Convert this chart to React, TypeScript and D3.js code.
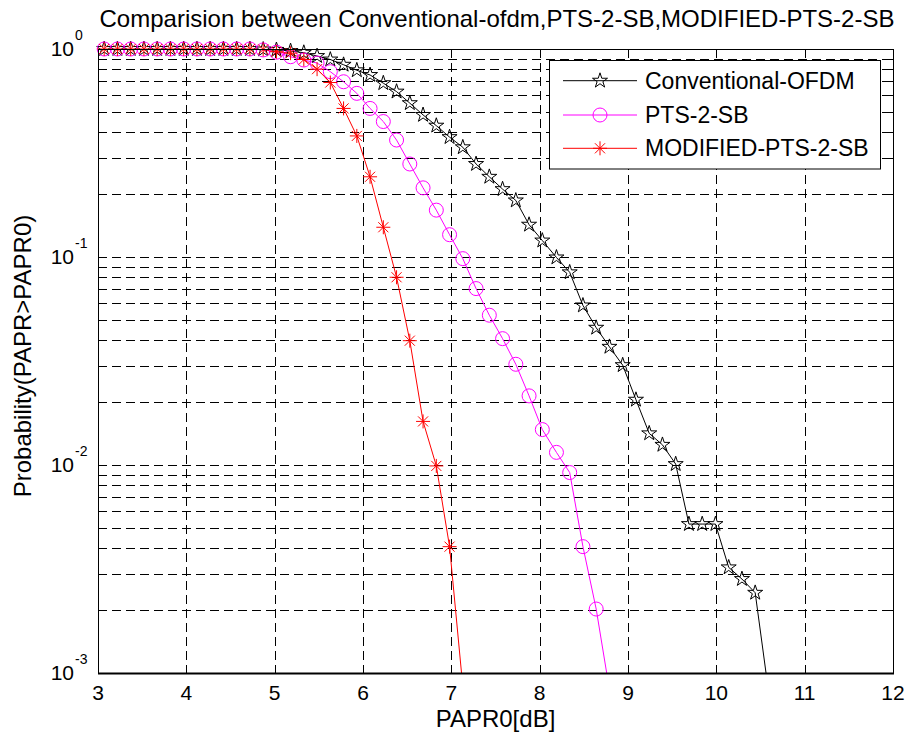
import React from "react";
import * as d3 from "d3";

const papr0 = [
  3.07, 3.22, 3.37, 3.52, 3.67, 3.82, 3.97, 4.12, 4.27, 4.42,
  4.57, 4.72, 4.87, 5.02, 5.18, 5.33, 5.48, 5.63, 5.78, 5.93,
  6.08, 6.23, 6.38, 6.53, 6.68, 6.83, 6.98, 7.13, 7.28, 7.43,
  7.58, 7.73, 7.88, 8.03, 8.19, 8.34, 8.49, 8.64, 8.79, 8.94,
  9.09, 9.24, 9.39, 9.54, 9.69, 9.84, 9.99, 10.14, 10.29, 10.44,
  10.59,
];

const conventional = [
  1, 1, 1, 1, 1, 1, 1, 1, 1, 1,
  1, 1, 0.995, 0.99, 0.978, 0.96, 0.925, 0.89, 0.84, 0.79,
  0.75, 0.685, 0.624, 0.549, 0.482, 0.428, 0.377, 0.337, 0.28, 0.243,
  0.212, 0.187, 0.143, 0.12, 0.0995, 0.0844, 0.0585, 0.0457, 0.037, 0.0302,
  0.0206, 0.0142, 0.0125, 0.0101, 0.0052, 0.0052, 0.0052, 0.00322, 0.00283, 0.00243,
  0.00082,
];

const pts2sb = [
  1, 1, 1, 1, 1, 1, 1, 1, 1, 1,
  1, 1, 0.99, 0.965, 0.918, 0.885, 0.856, 0.778, 0.696, 0.612,
  0.518, 0.448, 0.365, 0.28, 0.215, 0.168, 0.128, 0.0982, 0.0705, 0.0525,
  0.0405, 0.0305, 0.0215, 0.0148, 0.0115, 0.0092, 0.00405, 0.00203, 0.00083,
];

const modifiedPts = [
  1, 1, 1, 1, 1, 1, 1, 1, 1, 1,
  1, 1, 0.995, 0.97, 0.955, 0.89, 0.8, 0.69, 0.518, 0.382,
  0.243, 0.139, 0.0799, 0.0396, 0.0162, 0.0099, 0.00405, 0.00086,
];

const xTicks = [3, 4, 5, 6, 7, 8, 9, 10, 11, 12];
const yDecades = [0, -1, -2, -3];
const seriesNames = ["Conventional-OFDM", "PTS-2-SB", "MODIFIED-PTS-2-SB"];

const L = 98, R = 893, T = 49, B = 673;
const FONT = "Liberation Sans, Arial, Helvetica, sans-serif";

const x = d3.scaleLinear().domain([3, 12]).range([L, R]);
const y = d3.scaleLog().domain([1e-3, 1]).range([B, T]);

type Kind = "star" | "circle" | "asterisk";

function Marker({ kind, cx, cy, color }: { kind: Kind; cx: number; cy: number; color: string }) {
  if (kind === "circle") {
    return <circle cx={cx} cy={cy} r={7} fill="none" stroke={color} strokeWidth={1} />;
  }
  if (kind === "star") {
    const p = d3.symbol().type(d3.symbolStar).size(70)();
    return (
      <path d={p || ""} transform={`translate(${cx},${cy})`} fill="none" stroke={color} strokeWidth={1} />
    );
  }
  const r = 7;
  const q = r * 0.72;
  return (
    <g stroke={color} strokeWidth={1}>
      <line x1={cx - r} y1={cy} x2={cx + r} y2={cy} />
      <line x1={cx} y1={cy - r} x2={cx} y2={cy + r} />
      <line x1={cx - q} y1={cy - q} x2={cx + q} y2={cy + q} />
      <line x1={cx - q} y1={cy + q} x2={cx + q} y2={cy - q} />
    </g>
  );
}

const series: { name: string; values: number[]; color: string; kind: Kind }[] = [
  { name: seriesNames[0], values: conventional, color: "#000000", kind: "star" },
  { name: seriesNames[1], values: pts2sb, color: "#ff00ff", kind: "circle" },
  { name: seriesNames[2], values: modifiedPts, color: "#ff0000", kind: "asterisk" },
];

export default function App() {
  const line = d3
    .line<[number, number]>()
    .x((d) => x(d[0]))
    .y((d) => y(d[1]));

  const minorY: number[] = [];
  for (let e = -3; e < 0; e++) {
    for (let m = 2; m <= 9; m++) minorY.push(m * Math.pow(10, e));
  }
  const majorY = yDecades.map((e) => Math.pow(10, e));
  const crisp = (v: number) => Math.round(v) + 0.5;

  const legendRows = [80.7, 115, 148.3];

  return (
    <svg
      width={910}
      height={737}
      style={{ position: "absolute", left: 0, top: 0, background: "#fff" }}
      fontFamily={FONT}
    >
      <defs>
        <clipPath id="plotClip">
          <rect x={L} y={T} width={R - L} height={B - T} />
        </clipPath>
      </defs>
      <rect x={0} y={0} width={910} height={737} fill="#fff" />
      <rect x={L} y={T} width={R - L} height={B - T} fill="#fff" />

      {/* grid */}
      <g stroke="#000" strokeWidth={1} strokeDasharray="9,5" fill="none">
        {xTicks.slice(1, -1).map((t) => (
          <line key={"gx" + t} x1={crisp(x(t))} x2={crisp(x(t))} y1={T} y2={B} />
        ))}
        {[...minorY, ...majorY].map((v, i) => (
          <line key={"gy" + i} x1={L} x2={R} y1={crisp(y(v))} y2={crisp(y(v))} />
        ))}
      </g>

      {/* ticks */}
      <g stroke="#000" strokeWidth={1}>
        {xTicks.map((t) => (
          <g key={"tx" + t}>
            <line x1={crisp(x(t))} x2={crisp(x(t))} y1={B} y2={B - 8} />
            <line x1={crisp(x(t))} x2={crisp(x(t))} y1={T} y2={T + 8} />
          </g>
        ))}
        {majorY.map((v, i) => (
          <g key={"ty" + i}>
            <line x1={L} x2={L + 8} y1={crisp(y(v))} y2={crisp(y(v))} />
            <line x1={R} x2={R - 8} y1={crisp(y(v))} y2={crisp(y(v))} />
          </g>
        ))}
        {minorY.map((v, i) => (
          <g key={"tmy" + i}>
            <line x1={L} x2={L + 4} y1={crisp(y(v))} y2={crisp(y(v))} />
            <line x1={R} x2={R - 4} y1={crisp(y(v))} y2={crisp(y(v))} />
          </g>
        ))}
      </g>

      {/* data lines */}
      <g clipPath="url(#plotClip)" fill="none" strokeWidth={1}>
        {series.map((s) => (
          <path
            key={"l" + s.name}
            d={line(s.values.map((v, i) => [papr0[i], v] as [number, number])) || ""}
            stroke={s.color}
          />
        ))}
      </g>

      {/* markers */}
      {series.map((s) => (
        <g key={"m" + s.name}>
          {s.values.map((v, i) =>
            v >= 1e-3 ? (
              <Marker key={i} kind={s.kind} cx={x(papr0[i])} cy={y(v)} color={s.color} />
            ) : null
          )}
        </g>
      ))}

      {/* axes box */}
      <rect x={L + 0.5} y={T + 0.5} width={R - L} height={B - T} fill="none" stroke="#000" strokeWidth={1} />
      <line x1={L} x2={R + 1} y1={B + 0.5} y2={B + 0.5} stroke="#000" strokeWidth={2} />

      {/* x tick labels */}
      {xTicks.map((t) => (
        <text key={"xl" + t} x={x(t)} y={700} fontSize={21} textAnchor="middle" fill="#000">
          {t}
        </text>
      ))}

      {/* y tick labels */}
      {yDecades.map((e) => {
        const py = y(Math.pow(10, e));
        return (
          <g key={"yl" + e}>
            <text x={74} y={py + 6.5} fontSize={21} textAnchor="end" fill="#000">
              10
            </text>
            <text x={75} y={py - 9} fontSize={14} textAnchor="start" fill="#000">
              {String(e)}
            </text>
          </g>
        );
      })}

      {/* labels */}
      <text x={497} y={27} fontSize={24} textAnchor="middle" fill="#000">
        Comparision between Conventional-ofdm,PTS-2-SB,MODIFIED-PTS-2-SB
      </text>
      <text x={(L + R) / 2} y={727} fontSize={24} textAnchor="middle" fill="#000">
        PAPR0[dB]
      </text>
      <text
        transform={`translate(31,${(T + B) / 2 - 5}) rotate(-90)`}
        fontSize={24}
        textAnchor="middle"
        fill="#000"
      >
        Probability(PAPR&gt;PAPR0)
      </text>

      {/* legend */}
      <g>
        <rect x={549.5} y={60.5} width={331} height={108.5} fill="#fff" stroke="#000" strokeWidth={1} />
        {series.map((s, i) => (
          <g key={"lg" + s.name}>
            <line x1={563} x2={637} y1={legendRows[i]} y2={legendRows[i]} stroke={s.color} strokeWidth={1} />
            <Marker kind={s.kind} cx={600} cy={legendRows[i]} color={s.color} />
            <text x={645} y={legendRows[i] + 8} fontSize={23} fill="#000">
              {s.name}
            </text>
          </g>
        ))}
      </g>
    </svg>
  );
}
